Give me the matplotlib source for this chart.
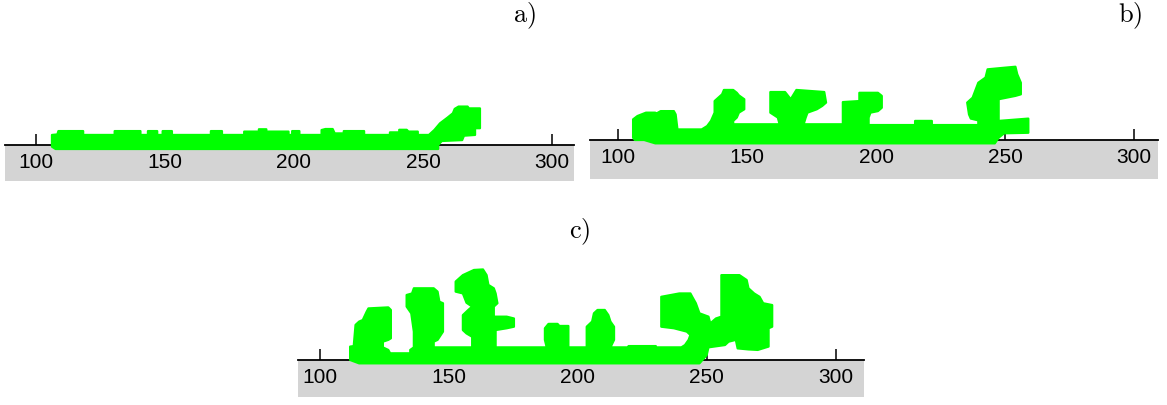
import matplotlib.pyplot as plt
from matplotlib.patches import Polygon

plt.rcParams['mathtext.fontset'] = 'cm'

W, H = 1167, 406

ticks = [100, 150, 200, 250, 300]
tick_labels = ['100', '150', '200', '250', '300']

# cluster outlines (x in axis units, y in the same units above the base line)
a_x = [107.6, 106.2, 106.2, 108.3, 108.7, 118.3, 118.3, 130.5, 130.5, 140.5, 140.5, 143.4, 143.4,
       147.0, 147.0, 149.1, 149.1, 152.7, 152.7, 167.8, 167.8, 172.1, 172.1, 180.7, 180.7, 186.4,
       186.4, 189.3, 189.3, 197.9, 197.9, 199.3, 199.3, 202.1, 202.1, 210.7, 210.7, 212.2, 215.0,
       215.8, 219.3, 219.3, 227.2, 227.2, 237.2, 237.2, 240.8, 240.8, 243.7, 244.4, 248.0, 248.0,
       252.3, 254.4, 256.6, 259.5, 261.6, 262.3, 263.8, 267.3, 267.8, 272.1, 272.1, 270.2, 270.2,
       265.9, 265.2, 257.3, 255.9, 255.9]
a_y = [-1.55, -0.65, 3.9, 4.1, 5.4, 5.4, 3.9, 3.9, 5.4, 5.4, 3.9, 3.9, 5.4,
       5.4, 3.9, 3.9, 5.4, 5.4, 3.9, 3.9, 5.4, 5.4, 3.9, 3.9, 5.2, 5.2,
       6.1, 6.1, 5.2, 5.2, 3.9, 3.9, 5.4, 5.4, 3.9, 3.9, 5.8, 6.2, 6.2,
       4.5, 4.5, 5.4, 5.4, 3.9, 3.9, 4.9, 4.9, 5.9, 5.9, 5.2, 5.2, 3.9,
       3.9, 5.8, 8.4, 10.6, 12.3, 14.0, 14.9, 14.9, 14.2, 14.2, 6.5, 6.5, 3.9,
       3.6, 1.9, 1.55, 0.0, -1.55]

b_x = [114.4, 110.1, 106.5, 105.8, 105.8, 107.5, 110.8, 114.4, 114.4, 116.5, 121.6, 122.3, 123.0,
       132.4, 134.5, 136.0, 137.4, 137.4, 140.3, 141.0, 144.6, 146.0, 146.8, 148.9, 148.9, 146.8,
       146.0, 144.6, 144.6, 162.6, 161.9, 159.0, 159.0, 164.7, 166.9, 169.1, 179.9, 180.6, 179.1,
       177.0, 173.4, 172.7, 171.9, 187.1, 187.1, 193.5, 193.5, 200.7, 202.2, 202.2, 200.7, 197.8,
       197.1, 197.1, 215.1, 215.1, 221.6, 221.6, 239.6, 239.6, 236.7, 236.0, 235.3, 237.4, 239.6,
       242.4, 243.2, 249.6, 254.0, 254.7, 256.1, 256.1, 254.0, 247.5, 247.5, 259.0, 259.0, 249.6,
       247.5, 246.0]
b_y = [-1.3, 0.0, 0.0, 0.9, 8.0, 9.3, 10.6, 10.6, 10.0, 11.2, 11.2, 9.9, 4.1,
       4.1, 5.4, 7.4, 10.6, 15.1, 17.7, 19.4, 19.4, 18.3, 17.3, 15.8, 11.9, 10.6,
       8.7, 7.4, 6.1, 6.1, 8.7, 10.6, 18.6, 18.6, 15.8, 19.4, 18.6, 14.5, 13.2,
       11.9, 10.6, 8.7, 6.1, 6.1, 14.7, 15.1, 18.3, 18.3, 17.1, 12.5, 11.2, 10.6,
       8.7, 5.8, 5.8, 7.4, 7.4, 5.8, 5.8, 7.6, 8.3, 9.9, 14.5, 16.4, 22.2,
       24.2, 27.4, 28.0, 28.4, 25.5, 22.2, 17.7, 17.1, 15.8, 7.4, 8.3, 2.8, 2.6,
       0.9, -1.3]

c_x = [115.2, 111.7, 111.7, 113.1, 113.8, 115.2, 116.6, 118.1, 118.8, 126.5, 127.5, 127.5, 126.5,
       124.4, 124.4, 126.5, 127.2, 135.0, 135.0, 136.4, 136.4, 135.4, 133.6, 133.6, 135.7, 136.4,
       144.1, 145.6, 146.3, 147.7, 147.7, 145.6, 144.1, 144.1, 159.0, 159.0, 156.8, 155.4, 155.4,
       157.5, 159.0, 156.8, 155.4, 152.6, 152.6, 155.4, 159.7, 163.2, 164.6, 165.3, 167.4, 168.1,
       168.8, 167.4, 167.4, 172.4, 175.2, 175.2, 172.4, 168.1, 168.1, 187.9, 187.2, 187.2, 188.6,
       192.1, 192.8, 196.3, 196.3, 203.4, 203.4, 205.5, 206.2, 207.6, 210.4, 211.8, 212.6, 214.0,
       214.0, 212.6, 219.6, 219.6, 230.2, 230.2, 240.1, 241.5, 242.9, 243.6, 242.2, 237.2, 232.3,
       232.3, 239.3, 243.6, 244.3, 245.7, 247.1, 250.6, 251.3, 253.5, 255.6, 255.6, 262.6, 265.4,
       266.1, 268.3, 270.4, 271.8, 275.3, 275.3, 273.9, 273.9, 269.7, 266.1, 261.9, 261.2, 258.4,
       257.0, 250.6, 249.9, 247.1]
c_y = [-1.3, 0.0, 5.2, 5.4, 13.6, 14.9, 15.5, 18.7, 20.0, 20.4, 19.4, 8.4, 7.8,
       7.1, 4.9, 3.9, 2.6, 2.6, 3.9, 4.9, 11.0, 18.1, 20.7, 25.2, 25.8, 27.8,
       27.8, 26.5, 22.6, 22.0, 11.0, 7.8, 7.1, 4.9, 4.9, 9.0, 10.3, 11.6, 17.4,
       19.4, 20.7, 22.2, 25.8, 26.5, 30.4, 32.9, 34.9, 35.1, 32.9, 29.1, 27.8, 25.8,
       22.0, 20.7, 16.8, 16.8, 16.1, 12.9, 12.3, 11.6, 4.9, 4.9, 7.8, 12.3, 14.0,
       14.0, 13.2, 13.2, 4.9, 4.9, 12.9, 14.9, 18.1, 19.4, 19.4, 17.4, 14.9, 12.9,
       7.8, 4.9, 4.9, 5.4, 5.4, 4.9, 4.9, 5.8, 7.8, 9.7, 11.0, 12.3, 12.9,
       24.5, 25.8, 25.8, 24.5, 22.0, 18.1, 16.8, 14.2, 16.1, 16.8, 32.9, 32.9, 31.0,
       27.8, 25.8, 24.5, 22.0, 21.3, 12.9, 12.3, 5.2, 3.9, 4.1, 4.5, 7.8, 7.1,
       5.8, 4.9, 1.9, -1.3]

fig = plt.figure(figsize=(W / 100, H / 100), dpi=100)


def panel(left, right, base, bottom, top, x0, xs, ys, label, lx, ly):
    # left/right/base/bottom/top in pixels from the top-left corner
    scale = 2.58
    ax = fig.add_axes([left / W, 1 - bottom / H, (right - left) / W, (bottom - top) / H])
    ax.set_xlim(x0, x0 + (right - left) / scale)
    ax.set_ylim(-(bottom - base) / scale, (base - top) / scale)
    ax.axhspan(-(bottom - base) / scale, 0, color='#d4d4d4', lw=0, zorder=0)
    for s in ['top', 'right', 'left']:
        ax.spines[s].set_visible(False)
    ax.spines['bottom'].set_position(('data', 0))
    ax.spines['bottom'].set_linewidth(1.3)
    ax.spines['bottom'].set_zorder(2)
    ax.set_yticks([])
    ax.set_xticks(ticks)
    ax.set_xticklabels(tick_labels, family=['Liberation Sans', 'DejaVu Sans'])
    ax.tick_params(axis='x', direction='in', length=8, width=1.1, pad=5, labelsize=15)
    ax.patch.set_alpha(0)
    ax.add_patch(Polygon(list(zip(xs, ys)), closed=True, facecolor='#00ff00',
                         edgecolor='#00ff00', lw=1.6, joinstyle='round', zorder=3))
    fig.text(lx / W, 1 - ly / H, r'$\mathrm{' + label + ')}$', ha='right', va='center',
             fontsize=19)
    return ax


panel(5, 574, 146, 182, 60, 88.0, a_x, a_y, 'a', 536, 16)
panel(590, 1158, 141, 180, 50, 89.1, b_x, b_y, 'b', 1142, 16)
panel(298, 864, 361, 398, 250, 91.5, c_x, c_y, 'c', 590, 232)

fig.savefig('out.png', dpi=100)
